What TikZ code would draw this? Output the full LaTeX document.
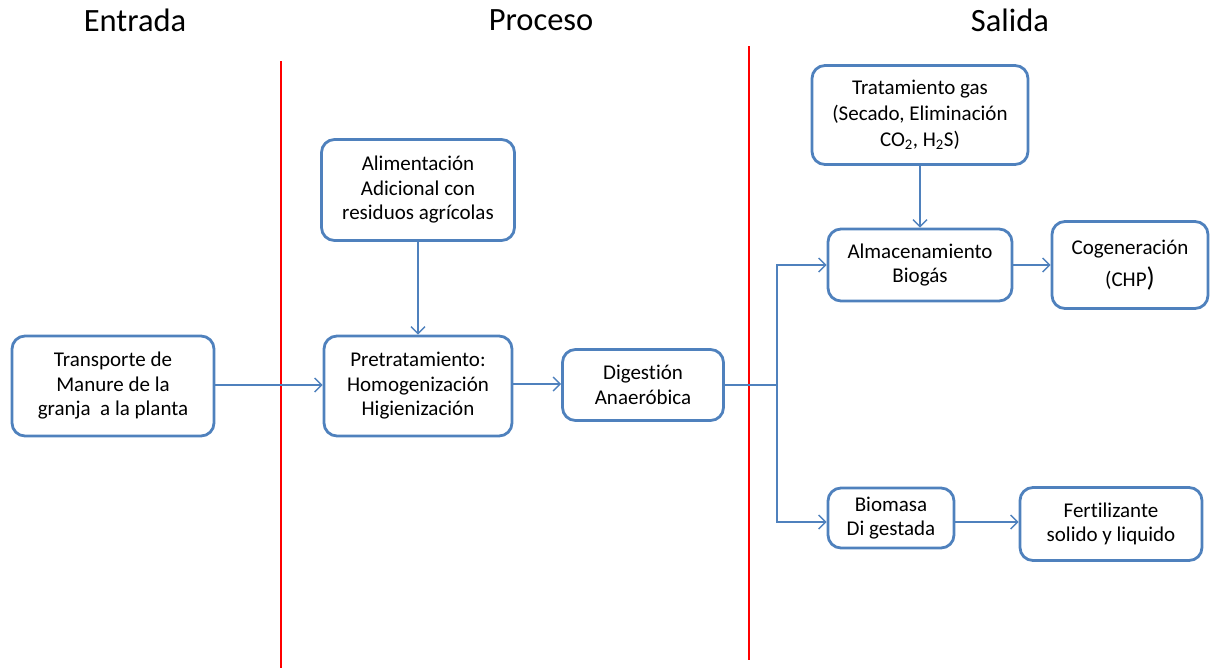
\documentclass[tikz,border=0pt]{standalone}
\usepackage{fontspec}
\setmainfont{Carlito}[Ligatures=NoCommon]
\usetikzlibrary{arrows.meta}
\definecolor{boxblue}{RGB}{79,129,189}
\definecolor{linered}{RGB}{255,0,0}
\begin{document}
\begin{tikzpicture}[x=1pt,y=-1pt,
  box/.style={draw=boxblue,line width=2.8pt,rounded corners=13pt,align=center,
    font=\fontsize{21}{24.5}\selectfont,inner sep=0pt},
  flow/.style={draw=boxblue,line width=1.4pt,-{Straight Barb[length=7pt,width=14pt,line width=1.4pt]}},
  link/.style={draw=boxblue,line width=1.4pt},
  head/.style={font=\fontsize{32.5}{36}\selectfont},
  divider/.style={draw=linered,line width=2.8pt}]
\useasboundingbox (0,0) rectangle (1211,670);
% column titles
\node[head] (tin) at (135,20) {Entrada};
\node[head] (tpr) at (541,20) {Proceso};
\node[head] (tout) at (1010,20) {Salida};
% column dividers
\coordinate (d1t) at (281,61);
\coordinate (d1b) at (281,668);
\coordinate (d2t) at (749,46);
\coordinate (d2b) at (749,660);
\draw[divider] (d1t) -- (d1b);
\draw[divider] (d2t) -- (d2b);
% boxes
\node[box,minimum width=202pt,minimum height=100pt] (trans) at (113,386)
  {Transporte de\\Manure de la\\granja\ \ a la planta};
\node[box,minimum width=188pt,minimum height=100pt] (pre) at (418,386)
  {Pretratamiento:\\Homogenización\\Higienización};
\node[box,minimum width=193pt,minimum height=101pt] (ali) at (418,190)
  {Alimentación\\Adicional con\\residuos agrícolas};
\node[box,minimum width=161pt,minimum height=71pt] (dig) at (643,385)
  {Digestión\\Anaeróbica};
\node[box,minimum width=216pt,minimum height=99pt,
  font=\fontsize{21}{26}\selectfont] (trat) at (920,115)
  {Tratamiento gas\\(Secado, Eliminación\\CO\textsubscript{2}, H\textsubscript{2}S)};
\node[box,minimum width=184pt,minimum height=72pt] (alm) at (920,265)
  {Almacenamiento\\Biogás};
\node[box,minimum width=156pt,minimum height=87pt] (cog) at (1130,265)
  {Cogeneración\\[8pt](CHP{\fontsize{27}{27}\selectfont)}};
\node[box,minimum width=126pt,minimum height=60pt] (bio) at (891,518)
  {Biomasa\\Di gestada};
\node[box,minimum width=182pt,minimum height=73pt] (fer) at (1111,524)
  {Fertilizante\\solido y liquido};
% connectors
\coordinate (split) at (777,385);
\draw[flow] (trans.east |- 0,385) -- (pre.west |- 0,385);
\draw[flow] (ali) -- (pre);
\draw[flow] (pre.east |- 0,384) -- (dig.west |- 0,384);
\draw[link] (dig.east |- split) -- (split);
\draw[flow] (split) |- (alm.west);
\draw[flow] (split) |- (bio.west |- 0,522);
\draw[flow] (trat) -- (alm);
\draw[flow] (alm) -- (cog);
\draw[flow] (bio.east |- 0,522) -- (fer.west |- 0,522);
\end{tikzpicture}
\end{document}
